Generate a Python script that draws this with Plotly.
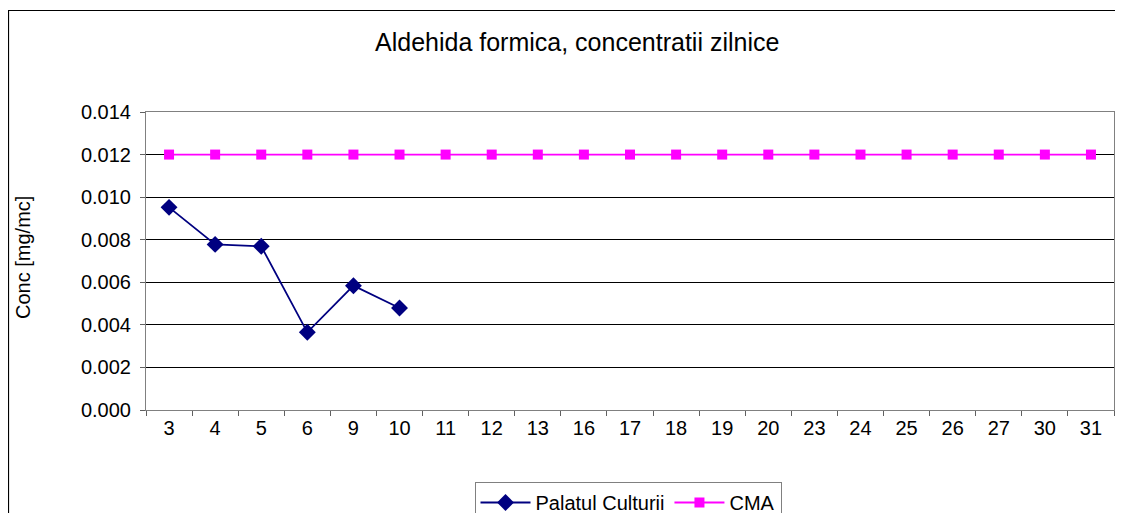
import plotly.graph_objects as go

days = ["3", "4", "5", "6", "9", "10", "11", "12", "13", "16", "17", "18", "19", "20",
        "23", "24", "25", "26", "27", "30", "31"]
palatul = [0.00952, 0.00778, 0.00769, 0.00365, 0.00584, 0.00479]
cma = [0.012] * len(days)

# page body adds an 8px offset; work in reference pixel coords and shift
OFF = 8
W, H = 1123 - 2 * OFF, 521 - 2 * OFF
L, T = 146 - OFF, 112 - OFF
R = 1
B = H - (410 - OFF)
pw, ph = W - L - R, H - T - B

def px_x(x):
    return (x - OFF - L) / pw

def px_y(y):
    return (H - B - (y - OFF)) / ph

fig = go.Figure()
fig.add_trace(go.Scatter(
    x=days[:len(palatul)], y=palatul, name="Palatul Culturii", mode="lines+markers",
    line=dict(color="#000080", width=1.8),
    marker=dict(symbol="diamond", size=13, color="#000080")))
fig.add_trace(go.Scatter(
    x=days, y=cma, name="CMA", mode="lines+markers",
    line=dict(color="#FF00FF", width=1.8),
    marker=dict(symbol="square", size=10, color="#FF00FF")))

fig.update_layout(
    width=W, height=H,
    margin=dict(l=L, r=R, t=T, b=B, autoexpand=False),
    paper_bgcolor="white", plot_bgcolor="white",
    font=dict(family="Arial, Liberation Sans, sans-serif", size=20, color="black"),
    showlegend=True,
    legend=dict(orientation="h", x=px_x(628), y=px_y(482), xanchor="center", yanchor="top",
                bordercolor="#808080", borderwidth=1, bgcolor="white", itemwidth=50,
                font=dict(size=20)),
    xaxis=dict(type="category", categoryorder="array", categoryarray=days,
               tickson="boundaries", ticks="outside", ticklen=5, tickcolor="#606060",
               showline=True, linecolor="#808080", mirror=True, showgrid=False,
               tickfont=dict(size=20), range=[-0.5, len(days) - 0.5]),
    yaxis=dict(range=[0, 0.014], dtick=0.002, tickformat=".3f",
               ticks="outside", ticklen=5, tickcolor="#606060", ticklabelstandoff=5,
               showline=True, linecolor="#808080", mirror=True,
               showgrid=True, gridcolor="black", gridwidth=1,
               tickfont=dict(size=20), zeroline=False),
    shapes=[dict(type="rect", xref="paper", yref="paper",
                 x0=px_x(8.5), x1=px_x(1135), y0=px_y(540), y1=px_y(10.5),
                 line=dict(color="black", width=1.2), layer="below")],
    annotations=[
        dict(text="Aldehida formica, concentratii zilnice", xref="paper", yref="paper",
             x=px_x(577), y=px_y(42), showarrow=False, xanchor="center", yanchor="middle",
             font=dict(size=25)),
        dict(text="Conc [mg/mc]", xref="paper", yref="paper", textangle=-90,
             x=px_x(23), y=px_y(258), showarrow=False, xanchor="center", yanchor="middle",
             font=dict(size=20)),
    ],
)

fig.write_html("out.html")
